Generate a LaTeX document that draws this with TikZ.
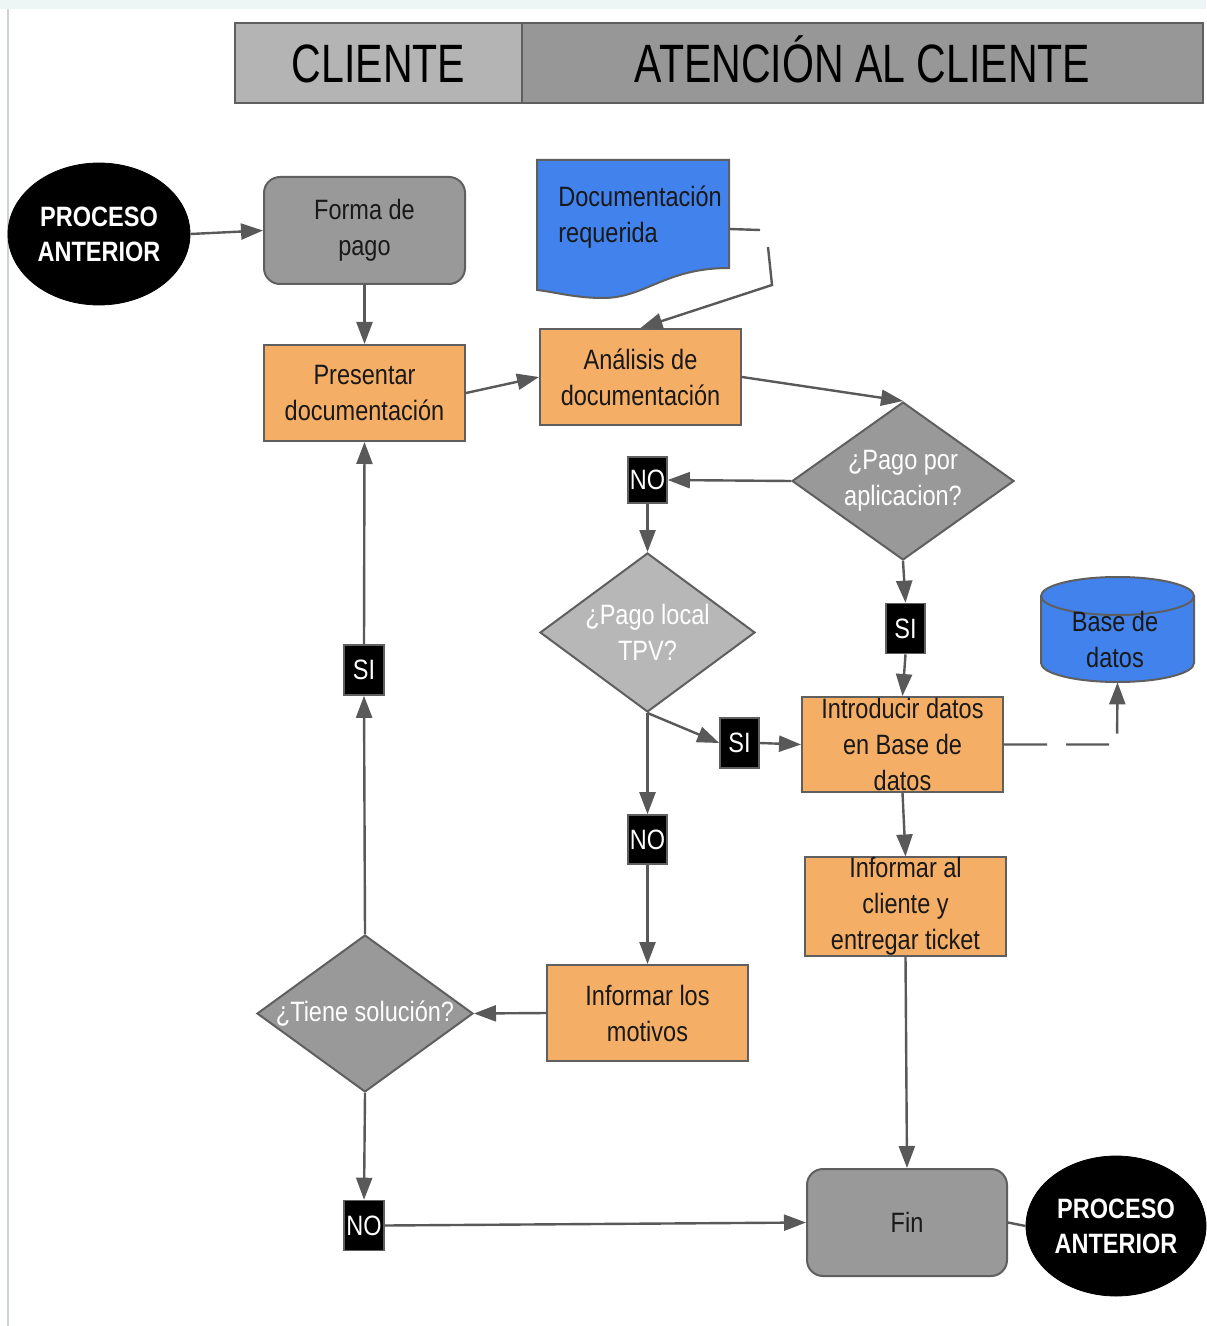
\documentclass[tikz,border=0pt]{standalone}
\usepackage{fontspec}
\usetikzlibrary{shapes.geometric,arrows.meta}
\newfontfamily\nf[FakeStretch=0.84]{Liberation Sans}
\newfontfamily\hf[FakeStretch=0.76]{Liberation Sans}
\definecolor{orng}{HTML}{F5AE66}
\definecolor{blu}{HTML}{4182EC}
\definecolor{gmid}{HTML}{999999}
\definecolor{glight}{HTML}{B7B7B7}
\definecolor{bord}{HTML}{5F5F5F}
\definecolor{lin}{HTML}{595959}
\definecolor{hleft}{HTML}{B4B4B4}
\definecolor{hright}{HTML}{979797}
\definecolor{band}{HTML}{EEF5F5}
\begin{document}
\begin{tikzpicture}[x=0.5pt,y=-0.5pt,
  txt/.style={font=\nf\fontsize{14pt}{18pt}\selectfont, align=center, inner sep=0pt},
  base/.style={txt, draw=bord, line width=1pt, text=black!90},
  proc/.style={base, fill=orng, minimum width=100.5pt, minimum height=48pt},
  term/.style={base, fill=gmid, rounded corners=8pt, minimum width=100.5pt, minimum height=53.5pt},
  dec/.style={base, diamond, fill=gmid, shape aspect=1.4},
  dtxt/.style={txt, text=white},
  lbl/.style={txt, fill=black, draw=bord, line width=0.8pt, text=white, minimum width=19.5pt, minimum height=25pt},
  oval/.style={txt, ellipse, fill=black, draw=black, text=white, font=\nf\bfseries\fontsize{14pt}{17.5pt}\selectfont},
  hdr/.style={draw=bord, line width=1pt, inner sep=0pt, minimum height=40pt, text height=20pt, text depth=0pt, font=\hf\fontsize{27pt}{30pt}\selectfont, text=black},
  conn/.style={draw=lin, line width=1.2pt, -{Triangle[length=11pt,width=8pt]}},
  plain/.style={draw=lin, line width=1.2pt}
]
\useasboundingbox (0,0) rectangle (1206,1326);
\fill[white] (0,0) rectangle (1206,1326);
\fill[band] (0,0) rectangle (1206,9);
\draw[band!70!gray, line width=0.6pt] (8,9) -- (8,1326);

% header
\node[hdr, fill=hleft, minimum width=143.5pt] (cli) at (378.5,63) {CLIENTE};
\node[hdr, fill=hright, minimum width=340.5pt] (aten) at (862.5,63) {ATENCIÓN AL CLIENTE};

% terminals
\node[oval, minimum width=91pt, minimum height=71pt] (ellL) at (99,234) {PROCESO\\ANTERIOR};
\node[oval, minimum width=90pt, minimum height=70pt] (ellR) at (1116,1226) {PROCESO\\ANTERIOR};

\node[term] (forma) at (364.5,230.5) {Forma de\\pago};
\node[term, minimum width=100pt] (fin) at (907,1222.5) {Fin};

% document shape
\fill[blu] (537,160) -- (729,160) -- (729,268)
  .. controls (665,268) and (645,298) .. (603,298)
  .. controls (575,298) and (555,292) .. (537,290) -- cycle;
\draw[bord, line width=1pt] (537,160) -- (729,160) -- (729,268)
  .. controls (665,268) and (645,298) .. (603,298)
  .. controls (575,298) and (555,292) .. (537,290) -- cycle;
\node[inner sep=0pt, minimum width=96pt, minimum height=69pt] (doc) at (633,229) {};
\node[txt, align=left, anchor=west, text=black!90] (doctxt) at (558,217) {Documentación\\requerida};

% database cylinder
\fill[blu] (1041,596) -- (1041,663) arc[start angle=180, end angle=360, x radius=38.25pt, y radius=9.5pt] -- (1194,596) -- cycle;
\draw[bord, line width=1pt] (1041,596) -- (1041,663) arc[start angle=180, end angle=360, x radius=38.25pt, y radius=9.5pt] -- (1194,596);
\draw[bord, line width=1pt, fill=blu] (1117.5,596) ellipse[x radius=38.25pt, y radius=9.5pt];
\node[txt, text=black!90, minimum width=76.5pt, minimum height=52.5pt] (db) at (1117.5,629.5) {};
\node[txt, text=black!90] (dbtxt) at (1115,639) {Base de\\datos};

% process boxes
\node[proc] (pres) at (364.5,393) {Presentar\\documentación};
\node[proc] (anal) at (640.5,377) {Análisis de\\documentación};
\node[proc, minimum height=47.5pt] (intro) at (902.5,744.5) {Introducir datos\\en Base de\\datos};
\node[proc, minimum height=48.5pt] (infc) at (905.5,906.5) {Informar al\\cliente y\\entregar ticket};
\node[proc] (mot) at (647.5,1013) {Informar los\\motivos};

% decisions
\node[dec, minimum width=111pt, minimum height=79pt] (d1) at (903,481) {};
\node[dtxt] (d1t) at (d1.center) {¿Pago por\\aplicacion?};
\node[dec, fill=glight, minimum width=107.5pt, minimum height=79.5pt] (d2) at (647.5,632.5) {};
\node[dtxt] (d2t) at (d2.center) {¿Pago local\\TPV?};
\node[dec, minimum width=108pt, minimum height=78.5pt] (d3) at (365,1013.5) {};
\node[dtxt] (d3t) at (d3.center) {¿Tiene solución?};

% labels
\node[lbl, minimum height=23pt] (no1) at (647.5,480) {NO};
\node[lbl] (si1) at (905.5,628.5) {SI};
\node[lbl] (si2) at (739.5,743) {SI};
\node[lbl, minimum height=24.5pt] (no2) at (647.5,839.5) {NO};
\node[lbl, minimum width=20pt] (si3) at (364,670) {SI};
\node[lbl, minimum width=20pt] (no3) at (364,1225.5) {NO};

% connectors
\draw[conn] (ellL.east) -- (forma.west);
\draw[conn] (forma.south) -- (pres.north);
\draw[conn] (pres.east) -- (anal.west);
\coordinate (dA) at (760,230);
\coordinate (dB) at (768,247);
\coordinate (dC) at (772,285);
\draw[plain] (doc.east) -- (dA);
\draw[conn] (dB) -- (dC) -- (anal.north);
\draw[conn] (anal.east) -- (d1.north);
\draw[conn] (d1.west) -- (no1.east);
\draw[conn] (no1.south) -- (d2.north);
\draw[conn] (d1.south) -- (si1.north);
\draw[conn] (si1.south) -- (intro.north);
\draw[conn] (d2.south) -- (si2.west);
\draw[conn] (si2.east) -- (intro.west);
\draw[conn] (d2.south) -- (no2.north);
\draw[conn] (no2.south) -- (mot.north);
\coordinate (dbk) at (1117,744.5);
\draw[conn, dash pattern=on 21.5pt off 9.5pt] (intro.east) -- (dbk) -- (db.south);
\draw[conn] (intro.south) -- (infc.north);
\draw[conn] (infc.south) -- (fin.north);
\draw[conn] (mot.west) -- (d3.east);
\draw[conn] (d3.north) -- (si3.south);
\draw[conn] (si3.north) -- (pres.south);
\draw[conn] (d3.south) -- (no3.north);
\draw[conn] (no3.east) -- (fin.west);
\draw[plain] (fin.east) -- (ellR.west);
\end{tikzpicture}
\end{document}
